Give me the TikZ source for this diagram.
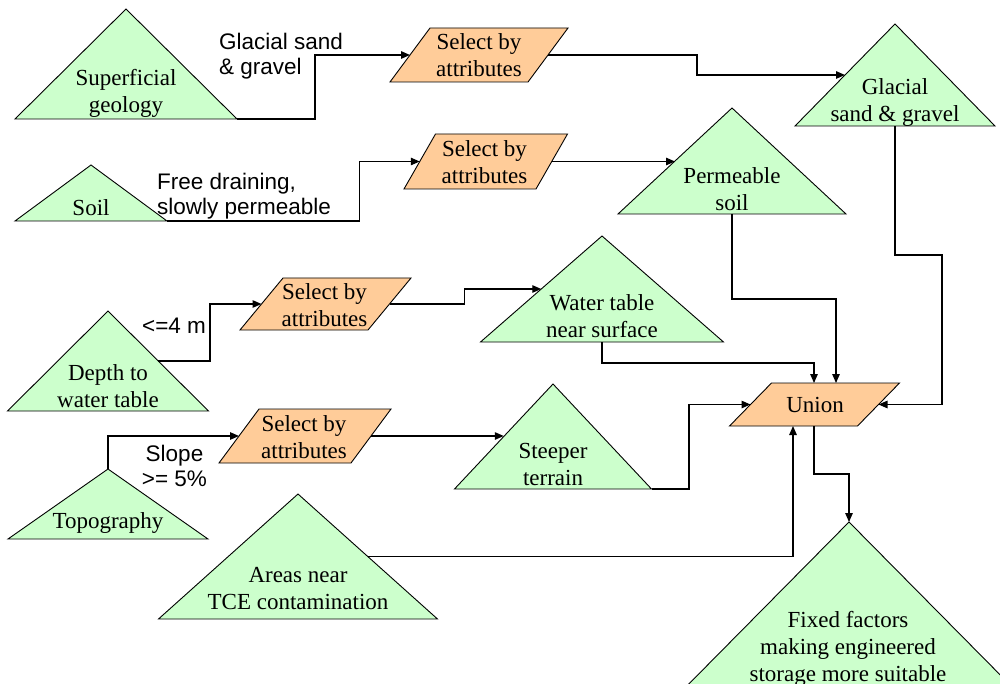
\documentclass[tikz,border=0pt]{standalone}
\usepackage{fontspec}
\setmainfont{Liberation Serif}
\newfontfamily\lblsans{Liberation Sans}
\usetikzlibrary{arrows.meta,calc}

\definecolor{layergreen}{RGB}{204,255,204}
\definecolor{toolorange}{RGB}{255,204,153}

\tikzset{
  layer/.style={draw=black, fill=layergreen, line width=0.9pt, line join=miter},
  tool/.style={draw=black, fill=toolorange, line width=0.9pt},
  shapetext/.style={inner sep=0pt, align=center, font={\fontsize{23}{27}\selectfont}},
  flowlabel/.style={inner sep=0pt, font={\lblsans\fontsize{22.5}{25}\selectfont}},
  flow/.style={draw=black, line width=1.3pt, -{Triangle[length=9pt,width=7.5pt]}},
}

% data layer: \layertri{name}{apex x}{apex y}{half base}{height}
\newcommand\layertri[5]{%
  \coordinate (#1-a) at (#2,#3);
  \coordinate (#1-l) at ({#2-#4},{#3+#5});
  \coordinate (#1-r) at ({#2+#4},{#3+#5});
  \coordinate (#1-lm) at ($(#1-a)!0.5!(#1-l)$);
  \coordinate (#1-rm) at ($(#1-a)!0.5!(#1-r)$);
  \coordinate (#1-bm) at (#2,{#3+#5});
  \path[layer] (#1-a) -- (#1-l) -- (#1-r) -- cycle;
}

% tool: \toolshape{name}{centre x}{centre y}{half width}{half height}{skew}
\newcommand\toolshape[6]{%
  \coordinate (#1-bl) at ({#2-#4-#6/2},{#3+#5});
  \coordinate (#1-br) at ({#2+#4-#6/2},{#3+#5});
  \coordinate (#1-tr) at ({#2+#4+#6/2},{#3-#5});
  \coordinate (#1-tl) at ({#2-#4+#6/2},{#3-#5});
  \coordinate (#1-in) at ({#2-#4},#3);
  \coordinate (#1-out) at ({#2+#4},#3);
  \path[tool] (#1-bl) -- (#1-br) -- (#1-tr) -- (#1-tl) -- cycle;
}

\begin{document}
\begin{tikzpicture}[x=1pt,y=-1pt]
\useasboundingbox (0,0) rectangle (1000,684);
\clip (0,0) rectangle (1000,684);

% input layers
\layertri{sg}{126}{9}{111}{110}
\layertri{so}{91}{165}{76}{56}
\layertri{dw}{108}{311}{100.5}{100}
\layertri{tp}{108}{469}{100}{70}
\layertri{ar}{298}{494}{139.5}{125}

% derived layers
\layertri{go}{895}{24}{100}{102}
\layertri{pe}{732}{108}{114}{106}
\layertri{wt}{602}{236}{121.5}{106}
\layertri{st}{553}{384}{98.5}{105}
\layertri{ff}{849}{522}{176}{178}

% tools
\toolshape{p1}{479}{55}{69}{27}{40}
\toolshape{p2}{485.75}{161.5}{66}{27.5}{31.5}
\toolshape{p3}{325.5}{304}{64}{26}{43}
\toolshape{p4}{305}{436}{66}{27}{40}
\toolshape{un}{814.5}{404.5}{64}{21.5}{42}

\coordinate (un-t1) at ([xshift=42.5]un-tl);
\coordinate (un-t2) at ([xshift=64.5]un-tl);
\coordinate (un-b1) at ([xshift=63.5]un-bl);
\coordinate (un-b2) at ([xshift=84.5]un-bl);

% flows
\draw[flow] (sg-r) -| ([xshift=-95]p1-in) -- (p1-in);
\draw[flow] (p1-out) -| ([xshift=-148]go-lm) -- (go-lm);
\draw[flow] (so-r) -| ([xshift=-60]p2-in) -- (p2-in);
\draw[flow] (p2-out) -- (p2-out -| pe-lm);
\draw[flow] (dw-rm) -| ([xshift=-51.5]p3-in) -- (p3-in);
\draw[flow] (p3-out) -| ([xshift=-76.5]wt-lm) -- (wt-lm);
\draw[flow] (tp-a) |- (p4-in);
\draw[flow] (p4-out) -- (p4-out -| st-lm);
\draw[flow] (st-r) -| ([xshift=-61.5]un-in) -- (un-in);
\draw[flow] (wt-bm) -- ++(0,21) -| (un-t1);
\draw[flow] (pe-bm) -- ++(0,85) -| (un-t2);
\draw[flow] (go-bm) -- ++(0,129) -| ([xshift=63.5]un-out) -- (un-out);
\draw[flow] (ar-rm) -| (un-b1);
\draw[flow] (un-b2) -- ++(0,48) -| (ff-a);

% layer and tool texts
\node[shapetext] (sg) at (126,93.5) {Superficial\\geology};
\node[shapetext] (so) at (91,208) {Soil};
\node[shapetext] (dw) at (108,386.5) {Depth to\\water table};
\node[shapetext] (tp) at (108,523) {Topography};
\node[shapetext] (ar) at (298,589) {Areas near\\TCE contamination};
\node[shapetext] (go) at (895,103) {Glacial\\sand \& gravel};
\node[shapetext] (pe) at (732,189) {Permeable\\soil};
\node[shapetext] (wt) at (602,316.5) {Water table\\near surface};
\node[shapetext] (st) at (553,464) {Steeper\\terrain};
\node[shapetext] (ff) at (848,648.5) {Fixed factors\\making engineered\\storage more suitable};
\node[shapetext] (p1) at (479,55.5) {Select by\\attributes};
\node[shapetext] (p2) at (484.5,162.5) {Select by\\attributes};
\node[shapetext] (p3) at (324.5,305) {Select by\\attributes};
\node[shapetext] (p4) at (304,437) {Select by\\attributes};
\node[shapetext] (un) at (815,405) {Union};

% query labels
\node[flowlabel, align=left, anchor=north west] (lab-glacial) at (219,33) {Glacial sand\\\& gravel};
\node[flowlabel, align=left, anchor=north west] (lab-soil) at (157,173) {Free draining,\\slowly permeable};
\node[flowlabel, anchor=base west] (lab-depth) at (142,333) {<=4 m};
\node[flowlabel, align=center, anchor=north] (lab-slope) at (174.5,445) {Slope\\>= 5\%};
\end{tikzpicture}
\end{document}
